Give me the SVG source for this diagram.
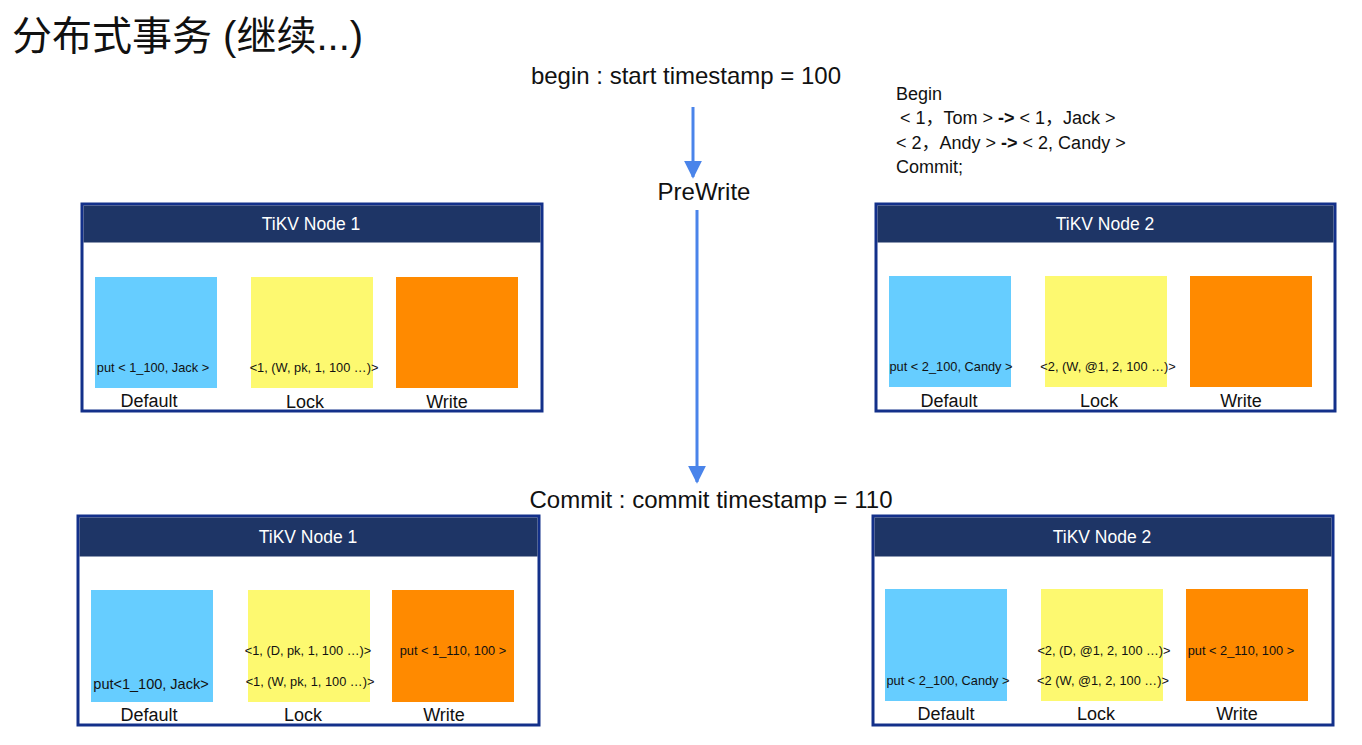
<svg xmlns="http://www.w3.org/2000/svg" width="1362" height="745" viewBox="0 0 1362 745">
<style>
text{font-family:"Liberation Sans","Noto Sans CJK SC",sans-serif;fill:#111}
.frame{fill:#fff;stroke:#13308a;stroke-width:3}
.hdr{fill:#1e3566}
.htxt{fill:#fff;font-size:17.5px;text-anchor:middle}
.def{fill:#66cdff}
.lock{fill:#fdf970}
.wr{fill:#ff8a00}
.lbl{font-size:18px;text-anchor:middle}
.in{font-size:12.8px;text-anchor:middle}
.big{font-size:24px;text-anchor:middle}
.code{font-size:18px}
.conn{stroke:#4a84ea;stroke-width:3;fill:none}
</style>
<defs>
<marker id="ah" viewBox="0 0 10 10" refX="9" refY="5" markerWidth="6" markerHeight="6" markerUnits="strokeWidth" orient="auto">
<path d="M0,0 L10,5 L0,10 z" fill="#4a84ea"/>
</marker>
</defs>
<rect width="1362" height="745" fill="#fff"/>
<text x="12" y="50" style="font-size:40px">分布式事务 (继续...)</text>
<text x="686" y="84" class="big">begin : start timestamp = 100</text>
<text x="704" y="200" class="big">PreWrite</text>
<text x="711" y="508" class="big">Commit : commit timestamp = 110</text>
<g id="sql">
<text x="896" y="100" class="code">Begin</text>
<text x="900" y="124" class="code"><tspan>&lt; 1，Tom &gt; </tspan><tspan font-weight="bold">-&gt;</tspan><tspan> &lt; 1，Jack &gt;</tspan></text>
<text x="896" y="149" class="code"><tspan>&lt; 2，Andy &gt; </tspan><tspan font-weight="bold">-&gt;</tspan><tspan> &lt; 2, Candy &gt;</tspan></text>
<text x="896" y="173" class="code">Commit;</text>
</g>
<g id="connectors">
<line x1="693" y1="107" x2="693" y2="177" class="conn" marker-end="url(#ah)"/>
<line x1="697" y1="210" x2="697" y2="482" class="conn" marker-end="url(#ah)"/>
</g>
<g id="n1-prewrite">
<rect x="82" y="204" width="460" height="207" class="frame"/>
<rect x="83.5" y="205.5" width="457" height="37" class="hdr"/>
<text x="311" y="230" class="htxt">TiKV Node 1</text>
<rect x="95" y="277" width="122" height="111" class="def"/>
<rect x="251" y="277" width="122" height="111" class="lock"/>
<rect x="396" y="277" width="122" height="111" class="wr"/>
<text x="153" y="372" class="in">put &lt; 1_100, Jack &gt;</text>
<text x="314" y="372" class="in">&lt;1, (W, pk, 1, 100 …)&gt;</text>
<text x="149" y="407" class="lbl">Default</text>
<text x="305" y="408" class="lbl">Lock</text>
<text x="447" y="408" class="lbl">Write</text>
</g>
<g id="n2-prewrite">
<rect x="876" y="204" width="459" height="207" class="frame"/>
<rect x="877.5" y="205.5" width="456" height="37" class="hdr"/>
<text x="1105" y="230" class="htxt">TiKV Node 2</text>
<rect x="889" y="276" width="122" height="111" class="def"/>
<rect x="1045" y="276" width="122" height="111" class="lock"/>
<rect x="1190" y="276" width="122" height="111" class="wr"/>
<text x="951" y="371" class="in">put &lt; 2_100, Candy &gt;</text>
<text x="1108" y="371" class="in">&lt;2, (W, @1, 2, 100 …)&gt;</text>
<text x="949" y="407" class="lbl">Default</text>
<text x="1099" y="407" class="lbl">Lock</text>
<text x="1241" y="407" class="lbl">Write</text>
</g>
<g id="n1-commit">
<rect x="78" y="516" width="461" height="209" class="frame"/>
<rect x="79.5" y="517.5" width="458" height="39" class="hdr"/>
<text x="308" y="543" class="htxt">TiKV Node 1</text>
<rect x="91" y="590" width="122" height="112" class="def"/>
<rect x="248" y="590" width="122" height="112" class="lock"/>
<rect x="392" y="590" width="122" height="112" class="wr"/>
<text x="151" y="689" class="in" style="font-size:14.5px">put&lt;1_100, Jack&gt;</text>
<text x="308" y="655" class="in">&lt;1, (D, pk, 1, 100 …)&gt;</text>
<text x="310" y="686" class="in">&lt;1, (W, pk, 1, 100 …)&gt;</text>
<text x="453" y="655" class="in">put &lt; 1_110, 100 &gt;</text>
<text x="149" y="721" class="lbl">Default</text>
<text x="303" y="721" class="lbl">Lock</text>
<text x="444" y="721" class="lbl">Write</text>
</g>
<g id="n2-commit">
<rect x="873" y="516" width="460" height="209" class="frame"/>
<rect x="874.5" y="517.5" width="457" height="39" class="hdr"/>
<text x="1102" y="543" class="htxt">TiKV Node 2</text>
<rect x="885" y="589" width="122" height="112" class="def"/>
<rect x="1041" y="589" width="122" height="112" class="lock"/>
<rect x="1186" y="589" width="122" height="112" class="wr"/>
<text x="948" y="685" class="in">put &lt; 2_100, Candy &gt;</text>
<text x="1104" y="655" class="in">&lt;2, (D, @1, 2, 100 …)&gt;</text>
<text x="1103" y="685" class="in">&lt;2 (W, @1, 2, 100 …)&gt;</text>
<text x="1241" y="655" class="in">put &lt; 2_110, 100 &gt;</text>
<text x="946" y="720" class="lbl">Default</text>
<text x="1096" y="720" class="lbl">Lock</text>
<text x="1237" y="720" class="lbl">Write</text>
</g>
</svg>
